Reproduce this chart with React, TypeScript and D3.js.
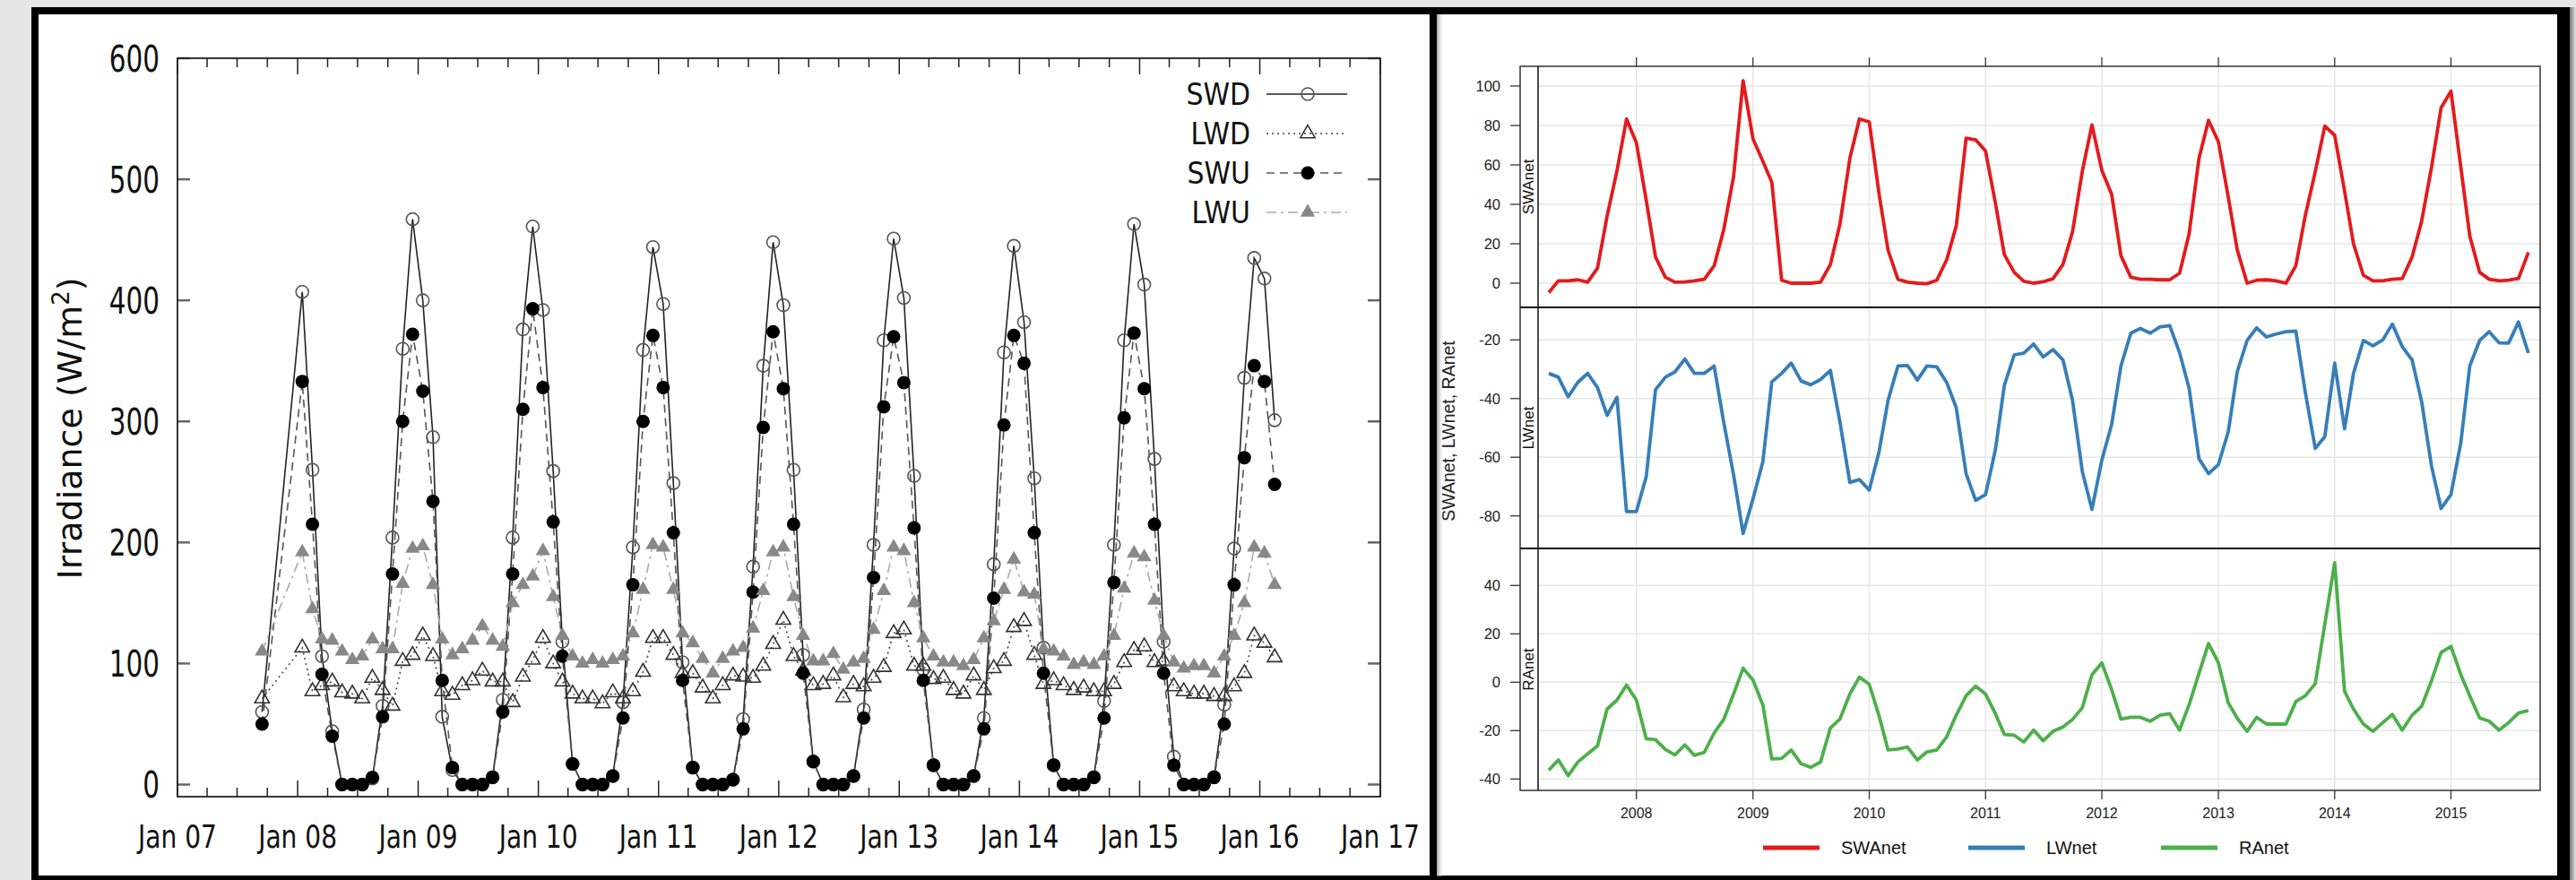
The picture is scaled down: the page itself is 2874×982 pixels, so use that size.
import React from "react";
import * as d3 from "d3";

// ---------- left chart: monthly irradiance (W/m2), Sep 2007 then Jan 2008 .. Feb 2016 ----------
const leftFirstMonth = [new Date(2007, 8, 15)];

const swd = [
  60,
  407, 260, 106, 44, 0, 0, 0, 5, 65, 204, 360, 467,
  400, 287, 56, 12, 0, 0, 0, 6, 70, 204, 376, 461,
  392, 259, 118, 17, 0, 0, 0, 7, 68, 196, 359, 444,
  397, 249, 101, 14, 0, 0, 0, 4, 54, 180, 346, 448,
  396, 260, 107, 19, 0, 0, 0, 7, 62, 198, 367, 451,
  402, 255, 95, 16, 0, 0, 0, 7, 55, 182, 357, 445,
  382, 253, 113, 16, 0, 0, 0, 6, 69, 198, 367, 463,
  413, 269, 118, 23, 0, 0, 0, 6, 66, 195, 336, 435,
  418, 301,
];
const lwd = [
  71,
  113, 77, 82, 85, 76, 75, 71, 88, 78, 65, 102, 107,
  123, 106, 77, 74, 82, 86, 94, 85, 85, 68, 89, 103,
  121, 100, 85, 75, 71, 71, 67, 76, 71, 77, 93, 121,
  121, 107, 92, 92, 80, 71, 82, 90, 89, 88, 98, 116,
  136, 106, 94, 82, 83, 90, 72, 83, 81, 88, 97, 125,
  128, 98, 98, 87, 88, 78, 75, 90, 78, 96, 102, 130,
  135, 107, 83, 86, 82, 78, 80, 77, 77, 83, 101, 111,
  114, 101, 102, 81, 77, 75, 75, 73, 73, 81, 92, 123,
  117, 105,
];
const swu = [
  50,
  333, 215, 91, 40, 0, 0, 0, 6, 56, 174, 300, 372,
  325, 234, 86, 14, 0, 0, 0, 6, 60, 174, 310, 393,
  328, 217, 106, 17, 0, 0, 0, 7, 55, 165, 300, 371,
  328, 208, 86, 14, 0, 0, 0, 4, 46, 159, 295, 374,
  327, 215, 92, 19, 0, 0, 0, 7, 55, 171, 312, 370,
  332, 212, 86, 16, 0, 0, 0, 7, 46, 154, 297, 371,
  348, 208, 92, 16, 0, 0, 0, 6, 55, 167, 303, 373,
  327, 215, 92, 16, 0, 0, 0, 6, 50, 165, 270, 346,
  333, 248,
];
const lwu = [
  110,
  192, 145, 120, 119, 110, 103, 106, 120, 112, 112, 166, 195,
  197, 165, 120, 107, 112, 119, 131, 119, 114, 150, 165, 172,
  193, 155, 123, 106, 100, 103, 100, 103, 106, 125, 161, 198,
  196, 161, 125, 117, 104, 92, 104, 110, 113, 129, 160, 192,
  196, 155, 123, 102, 102, 108, 95, 101, 104, 128, 160, 196,
  193, 150, 121, 106, 101, 101, 98, 103, 121, 135, 161, 186,
  159, 157, 112, 110, 106, 99, 101, 99, 106, 123, 162, 191,
  188, 152, 123, 101, 96, 98, 98, 92, 106, 123, 150, 196,
  191, 165,
];
const leftYTicks = [0, 100, 200, 300, 400, 500, 600];

// ---------- right chart: net radiation, monthly Apr 2007 .. Sep 2015 ----------
const swaNet = [
  -4.8, 1.2, 1.2, 1.7, 0.5, 7.7, 34, 57, 83.3,
  71.2, 42, 13.3, 3, 0.5, 0.6, 1.2, 2, 8.8, 27, 54, 102.7,
  73.2, 61.8, 51.2, 1.5, 0, 0, 0, 0.5, 9.5, 30, 63.3, 83.3,
  81.8, 45, 16.7, 2, 0.5, 0, -0.3, 1.5, 11.8, 29, 73.6, 72.7,
  67, 40.6, 14.5, 5.5, 1, 0, 0.7, 2.3, 9.5, 26, 57, 80.3,
  57.3, 45, 14, 3, 2, 2, 1.7, 1.7, 5, 25, 63.3, 82.6,
  71.7, 43.6, 17, 0, 1.5, 1.7, 1.2, 0, 8.8, 34.5, 56.5, 79.7,
  75, 46.7, 20, 4, 1.2, 1.2, 2, 2.3, 13.3, 31.5, 58.8, 89,
  97.4, 58.8, 24, 5.5, 2, 1.2, 1.5, 2.4, 15.6,
];
const lwNet = [
  -31.4, -32.7, -39.4, -34.5, -31.4, -36.3, -45.7, -39.6, -78.5,
  -78.5, -66.6, -37, -32.7, -30.9, -26.5, -31.4, -31.4, -28.9, -48, -66, -86,
  -74.2, -61.5, -34.3, -31.4, -27.9, -34, -35.3, -33.5, -30.4, -48, -68.6, -67.6,
  -71.2, -58, -40.6, -28.9, -28.7, -33.7, -28.9, -29.2, -34.5, -43.1, -65.6, -74.7,
  -72.7, -57.4, -35.5, -25.1, -24.5, -21.4, -25.8, -23.3, -26.8, -40.6, -65, -77.8,
  -61, -48.8, -28.9, -17.7, -16.1, -17.7, -15.6, -15.1, -24.3, -36.5, -60.5, -65.6,
  -62.5, -51.3, -30.9, -20.2, -15.9, -19, -18, -17.2, -17, -38, -57, -53,
  -27.9, -50.3, -31.4, -20.2, -22, -20, -14.6, -22.3, -26.8, -41.1, -63, -77.5,
  -72.7, -55, -28.9, -20.2, -17.2, -21, -21.1, -13.9, -24.5,
];
const raNet = [
  -36.4, -32.1, -38.6, -33, -29.6, -26.3, -11.1, -7.4, -1.2,
  -7.4, -23.4, -23.7, -27.8, -30, -25.9, -30.2, -29, -21, -15.4, -4.9, 5.8,
  0.9, -9.4, -31.7, -31.5, -28, -33.7, -35.2, -33, -18.9, -15.2, -4.9, 2.1,
  -0.8, -14, -28, -27.6, -26.8, -32.1, -28.8, -28, -22.6, -13.6, -5.6, -1.6,
  -4.9, -13, -21.6, -21.9, -24.7, -19.8, -24.2, -20.3, -18.5, -15.4, -10.5, 3.1,
  8, -3.1, -15.2, -14.5, -14.5, -16.1, -13.6, -13, -19.8, -9.3, 3.7, 16,
  8, -8.6, -14.8, -20.3, -14.5, -17.3, -17.3, -17.3, -8, -5.6, -0.6, 24,
  49.4, -3.7, -11.1, -17.3, -20.3, -16.7, -13.3, -19.8, -13.6, -9.9, 0.6, 12.3,
  14.8, 3.1, -5.6, -14.8, -16.1, -19.8, -16.7, -12.7, -11.7,
];
const swTicks = [0, 20, 40, 60, 80, 100];
const lwTicks = [-20, -40, -60, -80];
const raTicks = [40, 20, 0, -20, -40];
const rightYears = [2008, 2009, 2010, 2011, 2012, 2013, 2014, 2015];

const leftDates = [
  ...leftFirstMonth,
  ...d3.timeMonth
    .range(new Date(2008, 0, 1), new Date(2016, 2, 1))
    .map((d) => new Date(d.getFullYear(), d.getMonth(), 15)),
];
const rightDates = d3.timeMonth.range(new Date(2007, 3, 1), new Date(2015, 9, 1));

const LF = "DejaVu Sans, sans-serif";
const RF = "Liberation Sans, Arial, Helvetica, sans-serif";

const triPath = d3.symbol().type(d3.symbolTriangle).size(115)();

function Marker({ kind, x, y }: { kind: string; x: number; y: number }) {
  if (kind === "openCircle")
    return <circle cx={x} cy={y} r={7} fill="none" stroke="#555" strokeWidth={1.6} />;
  if (kind === "dot") return <circle cx={x} cy={y} r={7.5} fill="#000" />;
  if (kind === "openTri")
    return <path d={triPath} transform={`translate(${x},${y})`} fill="none" stroke="#333" strokeWidth={1.6} />;
  return <path d={triPath} transform={`translate(${x},${y})`} fill="#888" />;
}

export default function App() {
  // ---- left scales ----
  const xL = d3.scaleTime().domain([new Date(2007, 0, 1), new Date(2017, 0, 1)]).range([198, 1540]);
  const yL = d3.scaleLinear().domain([-10, 600]).range([889, 65]);
  const L = { x0: 198, x1: 1540, y0: 65, y1: 889 };

  const leftSeries = [
    { name: "SWD", values: swd, stroke: "#222", dash: "", marker: "openCircle" },
    { name: "LWD", values: lwd, stroke: "#444", dash: "2,4", marker: "openTri" },
    { name: "SWU", values: swu, stroke: "#555", dash: "9,6", marker: "dot" },
    { name: "LWU", values: lwu, stroke: "#aaa", dash: "11,5,3,5", marker: "grayTri" },
  ];
  const lineL = d3
    .line<number>()
    .x((_, i) => xL(leftDates[i]))
    .y((v) => yL(v));

  const quarterTicks = xL.ticks(d3.timeMonth.every(3)!);
  const yearTicks = xL.ticks(d3.timeYear.every(1)!);
  const fmt = d3.timeFormat("%b %y");

  // ---- right scales ----
  const xR = d3
    .scaleTime()
    .domain([new Date(2008, 0, 1), new Date(2015, 0, 1)])
    .range([1825.7, 2734.5]);
  const R = { frame: 1696, x0: 1716, x1: 2834, top: 74, bottom: 882 };
  const panels = [
    {
      name: "SWAnet", values: swaNet, color: "#e41a1c", ticks: swTicks, top: 74, bottom: 343,
      y: d3.scaleLinear().domain([0, 100]).range([316, 96]),
    },
    {
      name: "LWnet", values: lwNet, color: "#377eb8", ticks: lwTicks, top: 343, bottom: 612,
      y: d3.scaleLinear().domain([-20, -80]).range([379.3, 575.7]),
    },
    {
      name: "RAnet", values: raNet, color: "#4daf4a", ticks: raTicks, top: 612, bottom: 882,
      y: d3.scaleLinear().domain([40, -40]).range([653.3, 869.3]),
    },
  ];
  const legendR = [
    { name: "SWAnet", color: "#e41a1c", x: 1967 },
    { name: "LWnet", color: "#377eb8", x: 2196 },
    { name: "RAnet", color: "#4daf4a", x: 2411 },
  ];

  return (
    <div style={{ position: "absolute", left: 0, top: 0 }}>
      <svg width={2874} height={982} style={{ display: "block" }}>
        <defs>
          <linearGradient id="shadeR" x1="0" x2="1" y1="0" y2="0">
            <stop offset="0" stopColor="#777" />
            <stop offset="1" stopColor="#e6e6e6" />
          </linearGradient>
          <linearGradient id="shadeIn" x1="0" x2="1" y1="0" y2="0">
            <stop offset="0" stopColor="#888" stopOpacity={0.8} />
            <stop offset="1" stopColor="#fff" stopOpacity={0} />
          </linearGradient>
        </defs>
        <rect width={2874} height={982} fill="#e6e6e6" />

        {/* ===== left panel ===== */}
        <rect x={39} y={12} width={1560} height={969} fill="#fff" stroke="#000" strokeWidth={8} />

        {/* y ticks */}
        {leftYTicks.map((t) => (
          <g key={t}>
            <line x1={L.x0} x2={L.x0 + 14} y1={yL(t)} y2={yL(t)} stroke="#666" strokeWidth={2.5} />
            <line x1={L.x1} x2={L.x1 - 14} y1={yL(t)} y2={yL(t)} stroke="#666" strokeWidth={2.5} />
            <text
              transform={`translate(178,${yL(t) + 15}) scale(0.72,1)`}
              textAnchor="end"
              fontFamily={LF}
              fontSize={41}
              fill="#111"
            >
              {t}
            </text>
          </g>
        ))}

        {/* x ticks */}
        {quarterTicks.map((d) => {
          const major = d.getMonth() === 0;
          const len = major ? 18 : 10;
          const x = xL(d);
          return (
            <g key={+d}>
              <line x1={x} x2={x} y1={L.y1} y2={L.y1 - len} stroke="#222" strokeWidth={1.5} />
              <line x1={x} x2={x} y1={L.y0} y2={L.y0 + len} stroke="#222" strokeWidth={1.5} />
            </g>
          );
        })}
        {yearTicks.map((d) => (
          <text
            key={+d}
            transform={`translate(${xL(d)},946) scale(0.78,1)`}
            textAnchor="middle"
            fontFamily={LF}
            fontSize={36}
            fill="#111"
          >
            {fmt(d)}
          </text>
        ))}

        <rect x={L.x0} y={L.y0} width={L.x1 - L.x0} height={L.y1 - L.y0} fill="none" stroke="#222" strokeWidth={1.8} />

        {/* y title */}
        <text transform="translate(91,478) rotate(-90)" textAnchor="middle" fontFamily={LF} fontSize={38} fill="#111">
          Irradiance (W/m
          <tspan fontSize={26} dy={-14}>2</tspan>
          <tspan dy={14}>)</tspan>
        </text>

        {/* series */}
        {leftSeries.map((s) => (
          <path
            key={s.name}
            d={lineL(s.values) || ""}
            fill="none"
            stroke={s.stroke}
            strokeWidth={1.6}
            strokeDasharray={s.dash || undefined}
          />
        ))}
        {leftSeries.map((s) => (
          <g key={s.name + "m"}>
            {s.values.map((v, i) => (
              <Marker key={i} kind={s.marker} x={xL(leftDates[i])} y={yL(v)} />
            ))}
          </g>
        ))}

        {/* legend */}
        {leftSeries.map((s, i) => {
          const cy = 105 + i * 44;
          return (
            <g key={s.name + "l"}>
              <text
                transform={`translate(1395,${cy + 12}) scale(0.88,1)`}
                textAnchor="end"
                fontFamily={LF}
                fontSize={34}
                fill="#111"
              >
                {s.name}
              </text>
              <line
                x1={1413}
                x2={1503}
                y1={cy}
                y2={cy}
                stroke={s.stroke}
                strokeWidth={1.6}
                strokeDasharray={s.dash || undefined}
              />
              <Marker kind={s.marker} x={1459} y={cy} />
            </g>
          );
        })}

        {/* ===== right panel ===== */}
        <rect x={1599} y={12} width={1262} height={969} fill="#fff" stroke="#000" strokeWidth={8} />
        <rect x={1603} y={16} width={8} height={962} fill="url(#shadeIn)" />
        <rect x={2853} y={8} width={14} height={974} fill="#000" />
        <rect x={2867} y={8} width={7} height={974} fill="url(#shadeR)" />

        {panels.map((p) => (
          <g key={p.name}>
            {/* grid */}
            {p.ticks.map((t) => (
              <line key={t} x1={R.x0} x2={R.x1} y1={p.y(t)} y2={p.y(t)} stroke="#e6e6e6" strokeWidth={1.5} />
            ))}
            {rightYears.map((yr) => {
              const x = xR(new Date(yr, 0, 1));
              return <line key={yr} x1={x} x2={x} y1={p.top} y2={p.bottom} stroke="#e6e6e6" strokeWidth={1.5} />;
            })}
            {/* y ticks */}
            {p.ticks.map((t) => (
              <g key={"t" + t}>
                <line x1={R.frame - 11} x2={R.frame} y1={p.y(t)} y2={p.y(t)} stroke="#333" strokeWidth={1.3} />
                <text x={1674} y={p.y(t) + 6} textAnchor="end" fontFamily={RF} fontSize={16.5} fill="#222">
                  {t}
                </text>
              </g>
            ))}
            {/* strip label */}
            <text
              transform={`translate(1711,${(p.top + p.bottom) / 2}) rotate(-90)`}
              textAnchor="middle"
              fontFamily={RF}
              fontSize={17}
              fill="#111"
            >
              {p.name}
            </text>
            <path
              d={
                d3
                  .line<number>()
                  .x((_, i) => xR(rightDates[i]))
                  .y((v) => p.y(v))(p.values) || ""
              }
              fill="none"
              stroke={p.color}
              strokeWidth={3.8}
              strokeLinejoin="round"
            />
          </g>
        ))}

        {/* frames */}
        <rect x={R.frame} y={R.top} width={R.x1 - R.frame} height={R.bottom - R.top} fill="none" stroke="#333" strokeWidth={1.5} />
        <line x1={R.x0} x2={R.x0} y1={R.top} y2={R.bottom} stroke="#111" strokeWidth={1.5} />
        <line x1={R.frame} x2={R.x1} y1={343} y2={343} stroke="#111" strokeWidth={2.2} />
        <line x1={R.frame} x2={R.x1} y1={612} y2={612} stroke="#111" strokeWidth={2.2} />

        {/* x ticks */}
        {rightYears.map((yr) => {
          const x = xR(new Date(yr, 0, 1));
          return (
            <g key={"x" + yr}>
              <line x1={x} x2={x} y1={R.top - 10} y2={R.top} stroke="#333" strokeWidth={1.3} />
              <line x1={x} x2={x} y1={R.bottom} y2={R.bottom + 10} stroke="#333" strokeWidth={1.3} />
              <text x={x} y={912.5} textAnchor="middle" fontFamily={RF} fontSize={16} fill="#222">
                {yr}
              </text>
            </g>
          );
        })}

        {/* y title */}
        <text transform="translate(1623,481) rotate(-90)" textAnchor="middle" fontFamily={RF} fontSize={19.5} fill="#222">
          SWAnet, LWnet, RAnet
        </text>

        {/* legend */}
        {legendR.map((l) => (
          <g key={l.name}>
            <line x1={l.x} x2={l.x + 63} y1={946} y2={946} stroke={l.color} strokeWidth={5} />
            <text x={l.x + 87} y={953} fontFamily={RF} fontSize={20} fill="#111">
              {l.name}
            </text>
          </g>
        ))}
      </svg>
    </div>
  );
}
